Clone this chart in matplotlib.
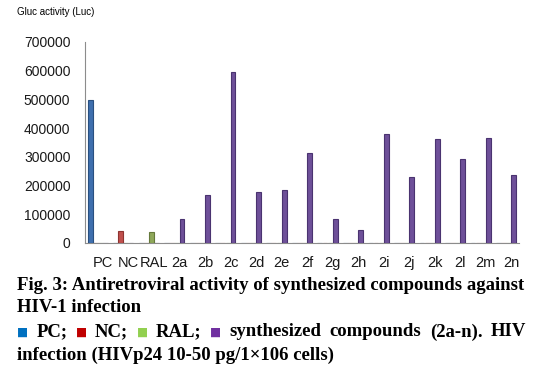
import numpy as np
import matplotlib
matplotlib.use('Agg')
import matplotlib.pyplot as plt

# data
categories = ['PC', 'NC', 'RAL', '2a', '2b', '2c', '2d', '2e', '2f', '2g',
              '2h', '2i', '2j', '2k', '2l', '2m', '2n']
pc_vals = [497000]
nc_vals = [42000]
ral_vals = [38000]
synth_vals = [83000, 167000, 595000, 178000, 185000, 313000, 84000, 45000,
              380000, 230000, 362000, 293000, 366000, 237000]
yticks = [0, 100000, 200000, 300000, 400000, 500000, 600000, 700000]

series = [
    ('PC', [pc_vals[0]] + [0] * 16, '#3F6FAE', '#2A5080'),
    ('NC', [0] + nc_vals + [0] * 15, '#C0504D', '#8E3431'),
    ('RAL', [0, 0] + ral_vals + [0] * 14, '#8FA85A', '#65793B'),
    ('synth', [0, 0, 0] + synth_vals, '#6E5099', '#4A3370'),
]

W, H = 552, 370
fig = plt.figure(figsize=(W / 100, H / 100), dpi=100)
ax = fig.add_axes([85 / W, 1 - 243 / H, (519 - 85) / W, (243 - 42) / H])

x = np.arange(len(categories))
d = 0.2
for k, (name, vals, col, edge) in enumerate(series):
    v = np.array(vals, dtype=float)
    ax.bar(x + (k - 1.5) * d, v, width=0.19, color=col, edgecolor=edge,
           linewidth=0.8, zorder=3)

ax.set_xlim(-0.5, len(categories) - 0.5)
ax.set_ylim(0, 700000)
ax.set_yticks(yticks)
ax.set_yticklabels([str(t) for t in yticks], fontsize=10,
                   family='Liberation Sans', color='#1a1a1a')
ax.set_xticks(x + 0.2)
ax.set_xticklabels(categories, fontsize=10.5, family='Liberation Sans',
                   color='#1a1a1a')
ax.tick_params(axis='both', length=0)
ax.tick_params(axis='y', pad=10.5)
ax.tick_params(axis='x', pad=9.5)
for s in ['top', 'right']:
    ax.spines[s].set_visible(False)
ax.spines['left'].set_color('#8c8c8c')
ax.spines['bottom'].set_color('#8c8c8c')

fig.text(17 / W, 1 - 12 / H, 'Gluc activity (Luc)', fontsize=7,
         family='Liberation Sans', va='center', ha='left')

serif = dict(family='Liberation Serif', weight='bold', fontsize=13.5,
             va='center', ha='left', color='black')
fig.text(17 / W, 1 - 285 / H,
         'Fig. 3: Antiretroviral activity of synthesized compounds against', **serif)
fig.text(17 / W, 1 - 308 / H, 'HIV-1 infection', **serif)

# legend line, justified between the caption margins
sq = dict(family='DejaVu Sans', fontsize=8.5, va='center', ha='left')
pieces = [
    ('■', '#0070C0', sq), ('PC;', 'black', serif),
    ('■', '#C00000', sq), ('NC;', 'black', serif),
    ('■', '#92D050', sq), ('RAL;', 'black', serif),
    ('■', '#7030A0', sq), ('synthesized', 'black', serif),
    ('compounds', 'black', serif), ('(2a-n).', 'black', serif),
    ('HIV', 'black', serif),
]
renderer = fig.canvas.get_renderer()
arts = []
for txt, col, style in pieces:
    st = dict(style)
    st['color'] = col
    arts.append(fig.text(0, 1 - 332 / H, txt, **st))
widths = [a.get_window_extent(renderer).width for a in arts]
left, right = 17, 526
gap = (right - left - sum(widths)) / (len(arts) - 1)
pos = left
for a, w in zip(arts, widths):
    a.set_x(pos / W)
    pos += w + gap

fig.text(17 / W, 1 - 355 / H, 'infection (HIVp24 10-50 pg/1\u00d7106 cells)', **serif)

fig.savefig('out.png', dpi=100)
